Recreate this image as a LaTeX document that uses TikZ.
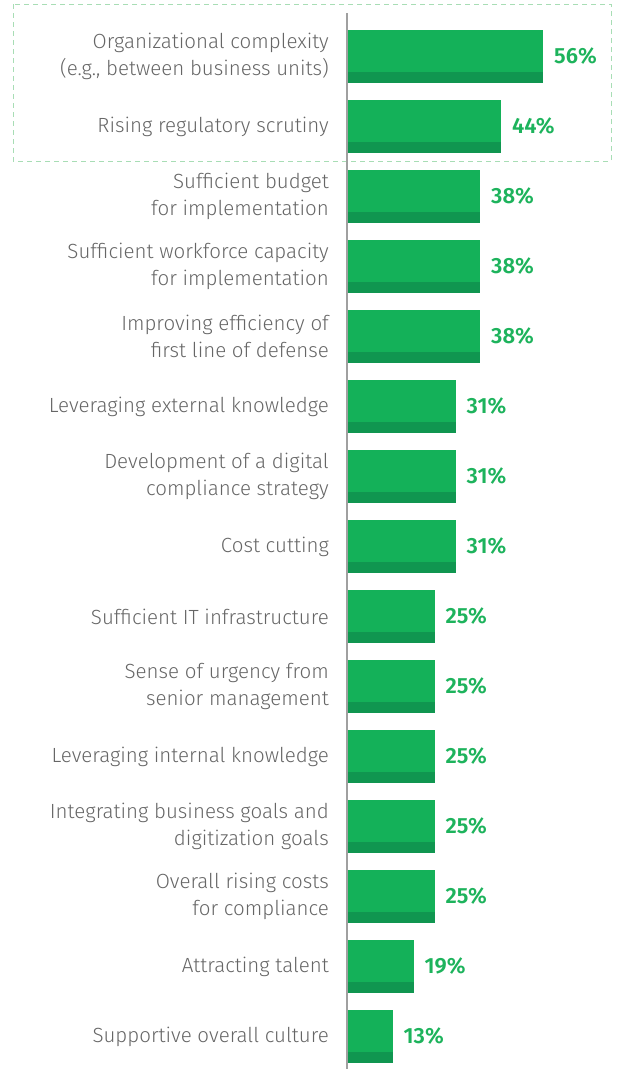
\documentclass[tikz,border=0pt]{standalone}
\usepackage{fontspec}
\setmainfont{Fira Sans}[UprightFont=* Light, BoldFont=* SemiBold]
\usetikzlibrary{positioning}
\definecolor{barGreen}{HTML}{14B159}
\definecolor{barDark}{HTML}{109650}
\definecolor{valGreen}{HTML}{1DB35C}
\definecolor{labGray}{HTML}{666666}
\definecolor{axisGray}{HTML}{A0A0A0}
\definecolor{boxGreen}{HTML}{A8DDB5}
\tikzset{
  bar/.style={fill=barGreen, inner sep=0pt, outer sep=0pt, anchor=north west, minimum height=53pt},
  lab/.style={anchor=east, align=right, text=labGray, inner sep=0pt, font=\fontsize{20.5}{26.5}\selectfont},
  val/.style={anchor=west, text=valGreen, inner sep=0pt, font=\bfseries\fontsize{22}{24}\selectfont},
  topbox/.style={draw=boxGreen, line width=1pt, dash pattern=on 5pt off 4pt},
  axis/.style={draw=axisGray, line width=1.5pt}
}

\begin{document}
\begin{tikzpicture}[x=1pt,y=-1pt]
\useasboundingbox (0,0) rectangle (617,1069);

% the two top items
\draw[topbox] (13,4) rectangle (611,161);

\foreach \v/\txt [count=\i from 0] in {
    56/{Organizational complexity\\(e.g., between business units)},
    44/{Rising regulatory scrutiny},
    38/{Sufficient budget\\for implementation},
    38/{Sufficient workforce capacity\\for implementation},
    38/{Improving efficiency of\\first line of defense},
    31/{Leveraging external knowledge},
    31/{Development of a digital\\compliance strategy},
    31/{Cost cutting},
    25/{Sufficient IT infrastructure},
    25/{Sense of urgency from\\senior management},
    25/{Leveraging internal knowledge},
    25/{Integrating business goals and\\digitization goals},
    25/{Overall rising costs\\for compliance},
    19/{Attracting talent},
    13/{Supportive overall culture}}
{
  \node[bar, minimum width={3.5pt*\v}] (bar\i) at (347,{30+70*\i}) {};
  \fill[barDark] ([yshift=11pt]bar\i.south west) rectangle (bar\i.south east);
  \node[lab] (lab\i) at ([xshift=-18pt]bar\i.west) {\txt};
  \node[val] (val\i) at ([xshift=11pt]bar\i.east) {\v\%};
}

\draw[axis] (347,13) -- (347,1069);
\end{tikzpicture}
\end{document}
